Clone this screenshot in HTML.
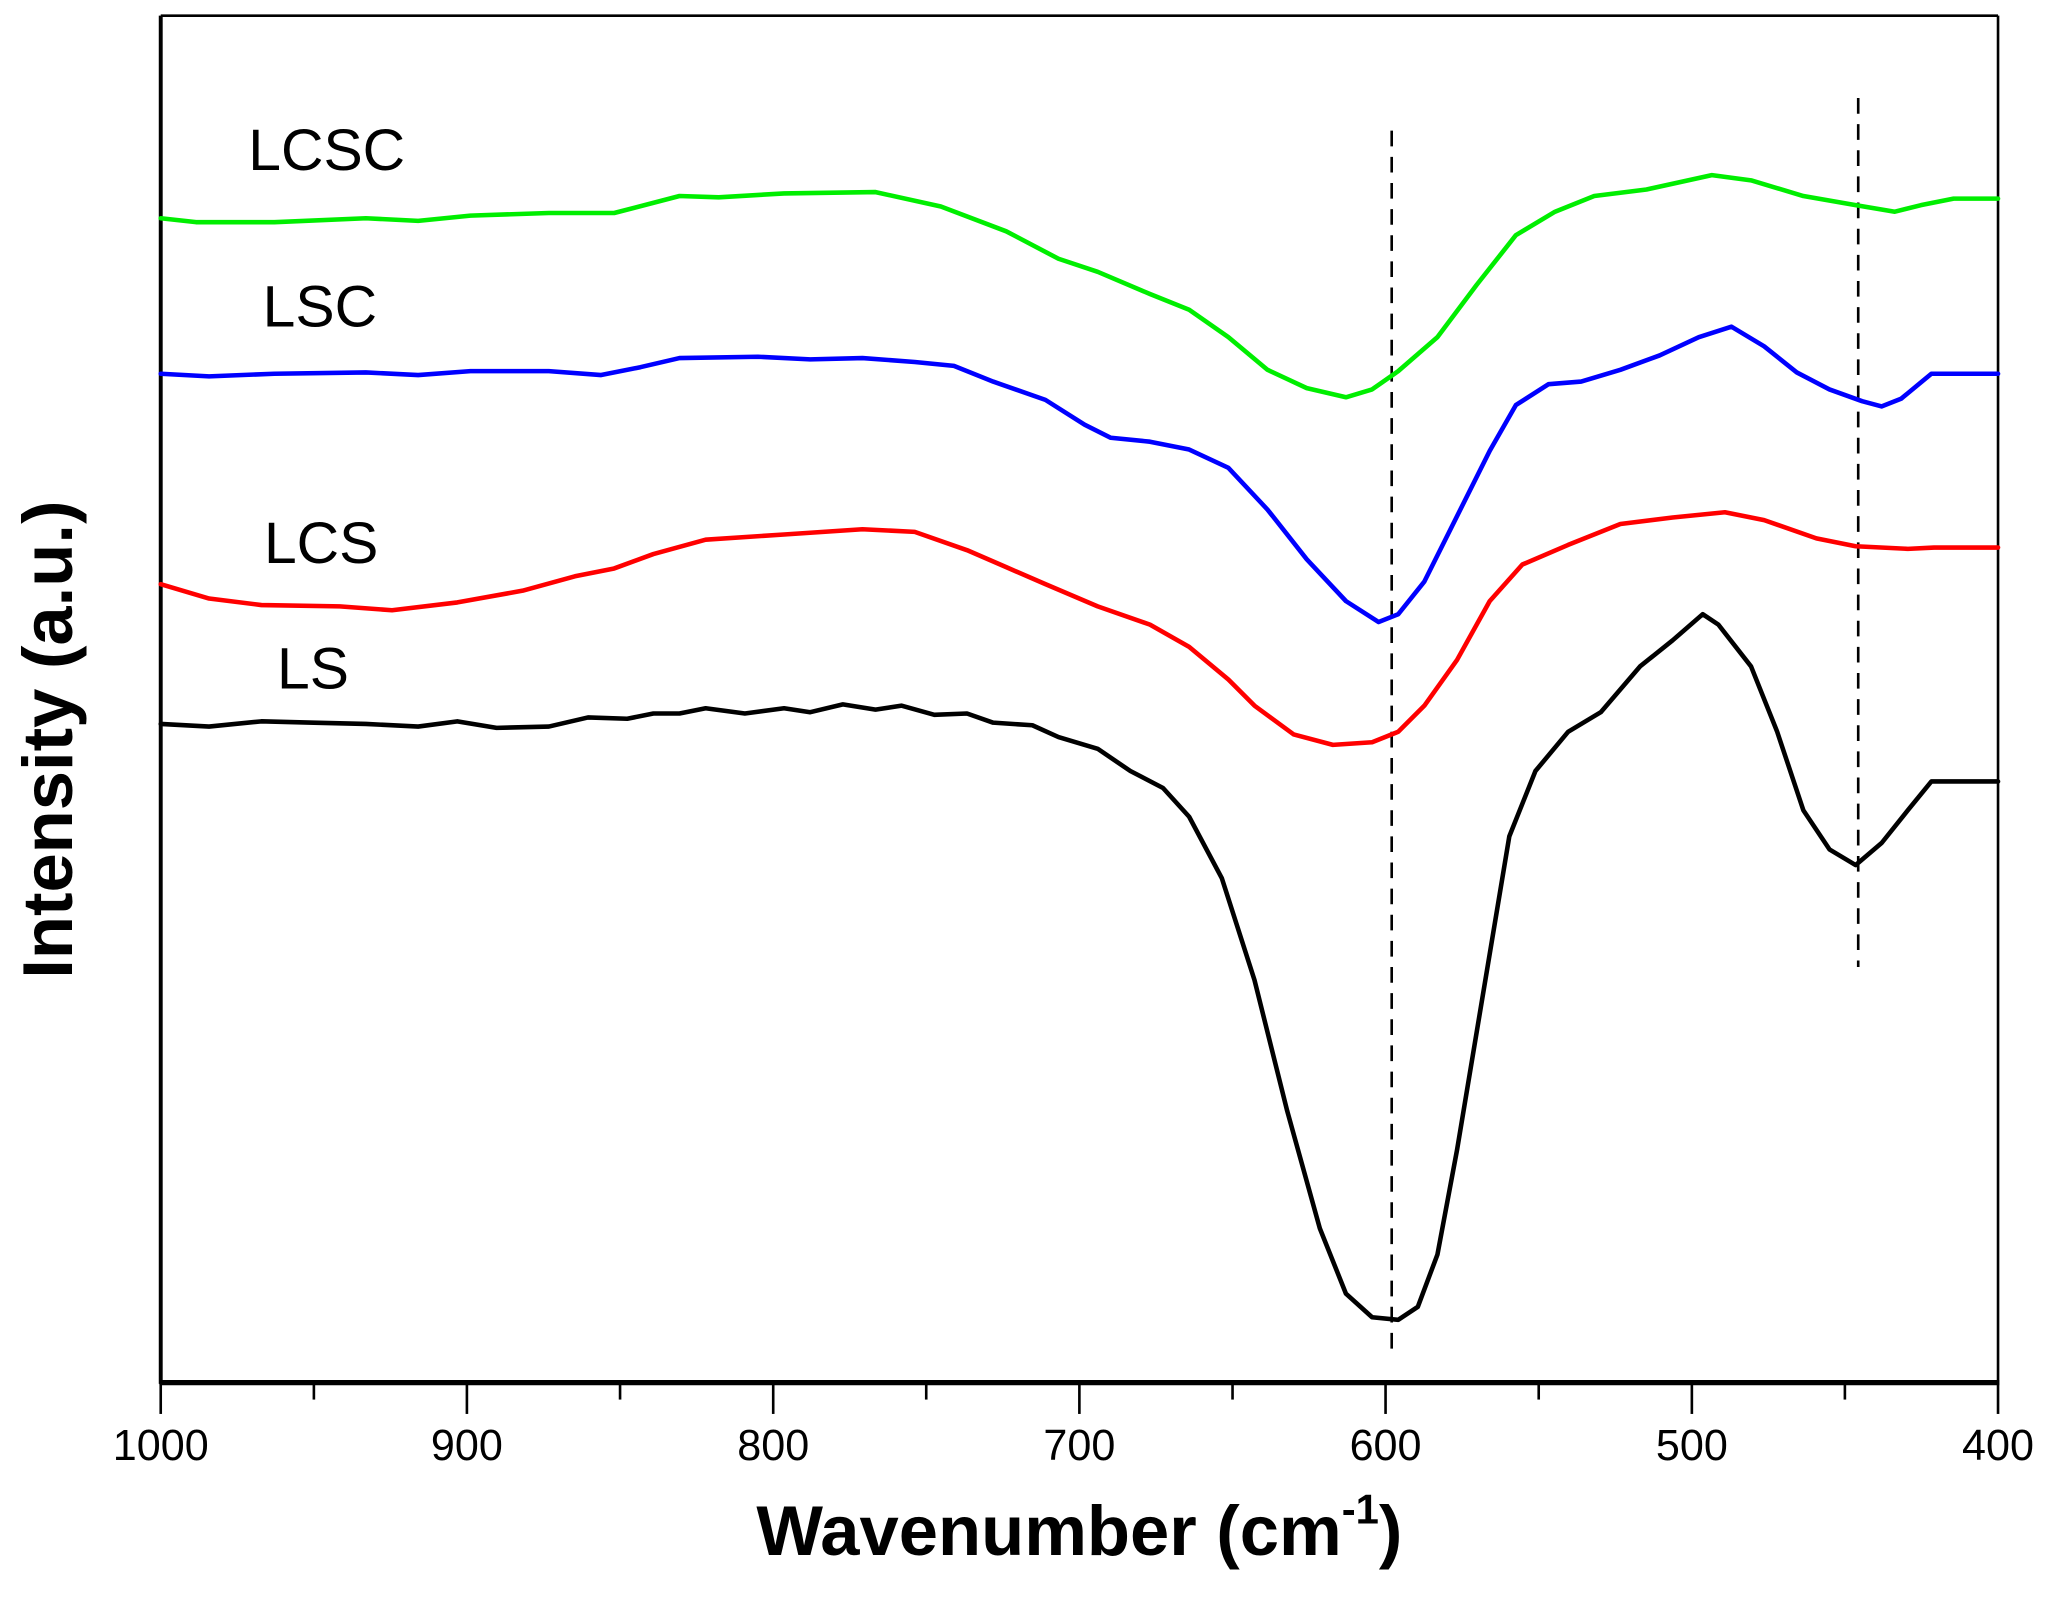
<!DOCTYPE html>
<html><head><meta charset="utf-8"><style>html,body{margin:0;padding:0;background:#fff}svg{display:block}</style></head>
<body>
<svg width="2049" height="1605" viewBox="0 0 1568 1228.2" preserveAspectRatio="none" xmlns="http://www.w3.org/2000/svg">
<rect width="1568" height="1229" fill="#fff"/>
<g fill="none" stroke="#000">
<line x1="123" y1="12" x2="1529" y2="12" stroke-width="2"/>
<line x1="1529" y1="12" x2="1529" y2="1058" stroke-width="2"/>
<line x1="123" y1="12" x2="123" y2="1059" stroke-width="3"/>
<line x1="122" y1="1058" x2="1530" y2="1058" stroke-width="4"/>
<g stroke-width="2">
<line x1="123" y1="1058" x2="123" y2="1082"/><line x1="357.3" y1="1058" x2="357.3" y2="1082"/><line x1="591.7" y1="1058" x2="591.7" y2="1082"/><line x1="826" y1="1058" x2="826" y2="1082"/><line x1="1060.3" y1="1058" x2="1060.3" y2="1082"/><line x1="1294.7" y1="1058" x2="1294.7" y2="1082"/><line x1="1529" y1="1058" x2="1529" y2="1082"/>
<line x1="240.2" y1="1058" x2="240.2" y2="1071"/><line x1="474.5" y1="1058" x2="474.5" y2="1071"/><line x1="708.8" y1="1058" x2="708.8" y2="1071"/><line x1="943.2" y1="1058" x2="943.2" y2="1071"/><line x1="1177.5" y1="1058" x2="1177.5" y2="1071"/><line x1="1411.8" y1="1058" x2="1411.8" y2="1071"/>
</g>
<line x1="1065" y1="100" x2="1065" y2="1040" stroke-width="2" stroke-dasharray="12,8"/>
<line x1="1422" y1="75" x2="1422" y2="740" stroke-width="2" stroke-dasharray="12,8"/>
</g>
<g fill="none" stroke-width="3.5" stroke-linejoin="round" stroke-linecap="round">
<polyline stroke="#00ee00" points="123,167 150,170 210,170 280,167 320,169 360,165 420,163 470,163 520,150 550,151 600,148 670,147 720,158 770,177 810,198 840,208 880,225 910,237 940,258 970,283 1000,297 1030,304 1050,298 1070,284 1100,258 1130,218 1160,180 1190,162 1220,150 1260,145 1310,134 1340,138 1380,150 1420,157 1450,162 1470,157 1495,152 1529,152"/>
<polyline stroke="#0000ff" points="123,286 160,288 210,286 280,285 320,287 360,284 420,284 460,287 490,281 520,274 580,273 620,275 660,274 700,277 730,280 760,292 800,306 830,325 850,335 880,338 910,344 940,358 970,390 1000,428 1030,460 1055,476 1070,470 1090,445 1110,405 1140,345 1160,310 1185,294 1210,292 1240,283 1270,272 1300,258 1325,250 1350,265 1375,285 1400,298 1425,307 1440,311 1455,305 1478,286 1529,286"/>
<polyline stroke="#ff0000" points="123,447 160,458 200,463 260,464 300,467 350,461 400,452 440,441 470,435 500,424 540,413 600,409 660,405 700,407 740,421 770,434 800,447 840,464 880,478 910,495 940,520 960,540 990,562 1020,570 1050,568 1070,560 1090,540 1115,505 1140,460 1165,432 1200,417 1240,401 1280,396 1320,392 1350,398 1390,412 1420,418 1460,420 1480,419 1529,419"/>
<polyline stroke="#000" points="123,554 160,556 200,552 240,553 280,554 320,556 350,552 380,557 420,556 450,549 480,550 500,546 520,546 540,542 570,546 600,542 620,545 645,539 670,543 690,540 715,547 740,546 760,553 790,555 810,564 840,573 865,590 890,603 910,625 935,672 960,750 985,850 1010,940 1030,990 1050,1008 1070,1010 1085,1000 1100,960 1115,880 1135,760 1155,640 1175,590 1200,560 1225,545 1255,510 1280,490 1303,470 1315,478 1340,510 1360,560 1380,620 1400,650 1420,662 1440,645 1460,620 1478,598 1529,598"/>
</g>
<g font-family="Liberation Sans, sans-serif" fill="#000">
<g font-size="45">
<text x="190" y="130">LCSC</text>
<text x="201" y="250">LSC</text>
<text x="202" y="431">LCS</text>
<text x="212" y="527">LS</text>
</g>
<g font-size="33" text-anchor="middle">
<text x="123" y="1094" dominant-baseline="hanging">1000</text>
<text x="357.3" y="1094" dominant-baseline="hanging">900</text>
<text x="591.7" y="1094" dominant-baseline="hanging">800</text>
<text x="826" y="1094" dominant-baseline="hanging">700</text>
<text x="1060.3" y="1094" dominant-baseline="hanging">600</text>
<text x="1294.7" y="1094" dominant-baseline="hanging">500</text>
<text x="1529" y="1094" dominant-baseline="hanging">400</text>
</g>
<text x="826" y="1190" font-size="54" font-weight="bold" text-anchor="middle">Wavenumber (cm<tspan dy="-24" font-size="32">-1</tspan><tspan dy="24">)</tspan></text>
<text transform="translate(55,566) rotate(-90)" font-size="54" font-weight="bold" text-anchor="middle">Intensity (a.u.)</text>
</g>
</svg>
</body></html>
